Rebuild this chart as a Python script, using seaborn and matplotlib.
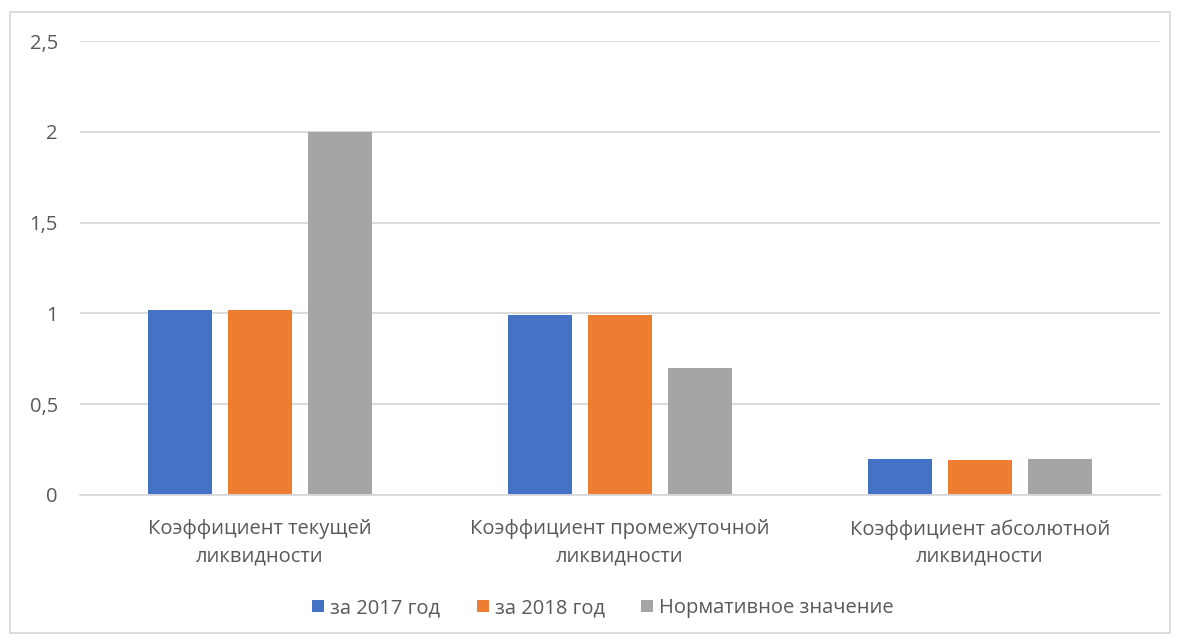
import matplotlib
matplotlib.use("Agg")
import matplotlib.pyplot as plt
import seaborn as sns
import pandas as pd
from matplotlib.patches import Rectangle

categories = ["Коэффициент текущей\nликвидности",
              "Коэффициент промежуточной\nликвидности",
              "Коэффициент абсолютной\nликвидности"]
series_names = ["за 2017 год", "за 2018 год", "Нормативное значение"]
v2017 = [1.02, 0.99, 0.20]
v2018 = [1.02, 0.99, 0.19]
vnorm = [2.0, 0.70, 0.20]
yticks = [0, 0.5, 1, 1.5, 2, 2.5]
ytick_labels = ["0", "0,5", "1", "1,5", "2", "2,5"]
colors = ["#4472C4", "#ED7D31", "#A5A5A5"]

rows = []
for name, vals in zip(series_names, [v2017, v2018, vnorm]):
    for c, v in zip(categories, vals):
        rows.append({"cat": c, "series": name, "value": v})
df = pd.DataFrame(rows)

sns.set_theme(style="white")
plt.rcParams['font.family'] = ['Open Sans', 'DejaVu Sans']

fig = plt.figure(figsize=(11.78, 6.38), dpi=100)
ax = fig.add_axes([80/1178, 1 - 495/638, 1080/1178, (495-41)/638])

sns.barplot(data=df, x="cat", y="value", hue="series", palette=colors,
            width=0.667, gap=0.21, ax=ax, saturation=1, legend=True,
            edgecolor="none")

ax.set_xlim(-0.5, 2.5)
ax.set_ylim(0, 2.5)
ax.set_yticks(yticks)
ax.set_yticklabels(ytick_labels)
ax.yaxis.grid(True, color="#D9D9D9", linewidth=1.3)
ax.set_axisbelow(True)
for s in ["top", "right", "left"]:
    ax.spines[s].set_visible(False)
ax.spines["bottom"].set_color("#D9D9D9")
ax.spines["bottom"].set_linewidth(1.3)
ax.set_xlabel("")
ax.set_ylabel("")
ax.tick_params(axis="y", length=0, pad=16, labelsize=14.5, labelcolor="#595959")
ax.tick_params(axis="x", length=0, pad=17.5, labelsize=14.5, labelcolor="#595959")
for t in ax.get_xticklabels():
    t.set_linespacing(1.45)

handles, labels = ax.get_legend_handles_labels()
ax.legend_.remove()
fig.legend(handles, labels, loc="center", bbox_to_anchor=(603/1178, 1 - 608/638),
           ncol=3, frameon=False, fontsize=14.5, labelcolor="#595959",
           handlelength=0.6, handleheight=0.6, handletextpad=0.3, columnspacing=1.8)

fig.patches.append(Rectangle((10/1178, 1 - 633/638), 1160/1178, 621/638,
                             transform=fig.transFigure, fill=False,
                             edgecolor="#D9D9D9", linewidth=1.3))

fig.savefig("out.png", dpi=100)
